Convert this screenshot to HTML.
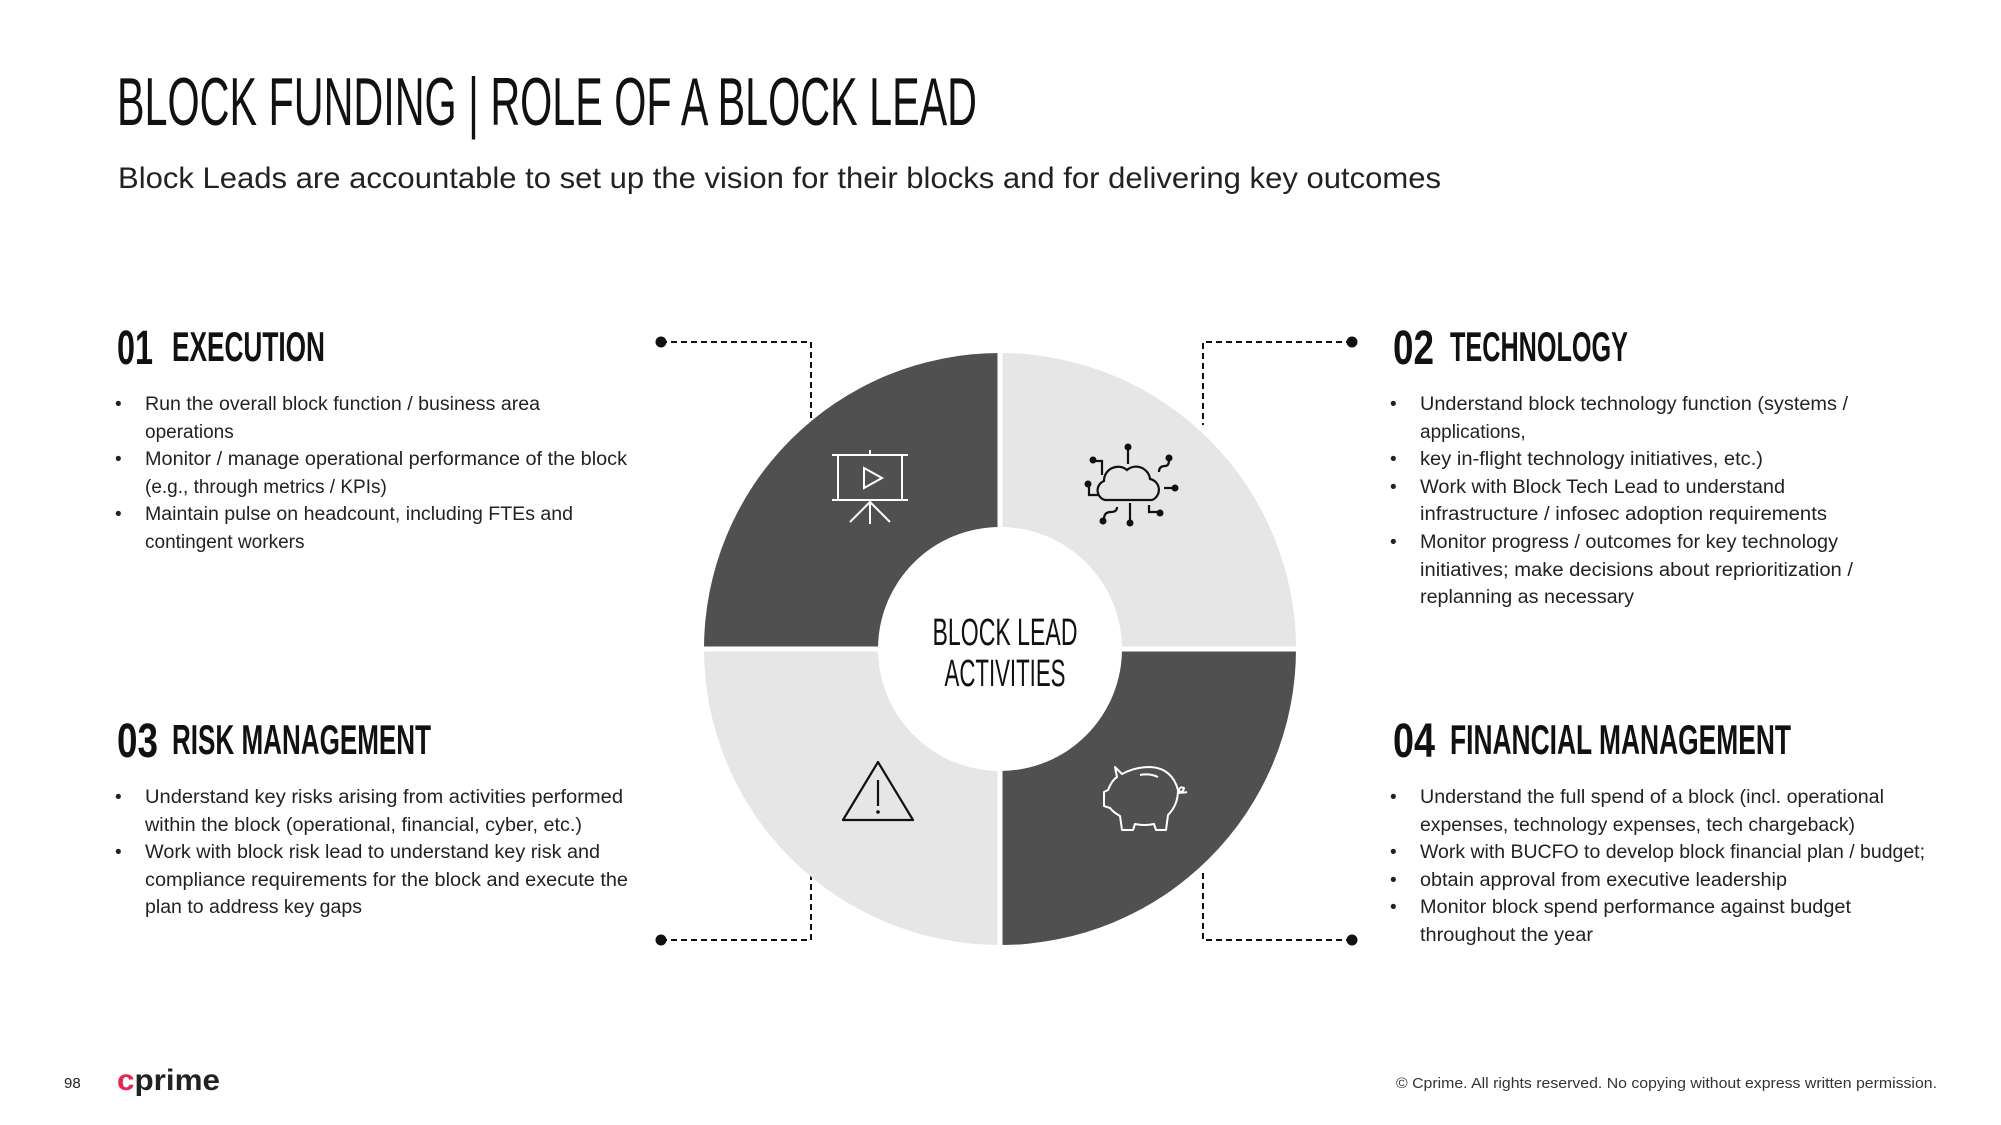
<!DOCTYPE html>
<html><head><meta charset="utf-8"><style>
html,body{margin:0;padding:0;background:#fff;}
svg{display:block;}
text{font-family:"Liberation Sans",sans-serif;fill:#111;}
.b{font-size:19px;fill:#222;}
</style></head><body>
<svg width="2001" height="1125" viewBox="0 0 2001 1125" xmlns="http://www.w3.org/2000/svg">
<rect width="2001" height="1125" fill="#fff"/>
<text x="117" y="125" font-size="68" textLength="860" lengthAdjust="spacingAndGlyphs" style="fill:#111">BLOCK FUNDING | ROLE OF A BLOCK LEAD</text>
<text x="118" y="188" font-size="30" textLength="1323" lengthAdjust="spacingAndGlyphs" style="fill:#222">Block Leads are accountable to set up the vision for their blocks and for delivering key outcomes</text>

<g font-weight="bold">
<text x="117" y="364" font-size="48" textLength="36" lengthAdjust="spacingAndGlyphs">01</text>
<text x="172" y="361" font-size="42" textLength="153" lengthAdjust="spacingAndGlyphs">EXECUTION</text>
<text x="1393" y="364" font-size="48" textLength="41" lengthAdjust="spacingAndGlyphs">02</text>
<text x="1450" y="361" font-size="42" textLength="178" lengthAdjust="spacingAndGlyphs">TECHNOLOGY</text>
<text x="117" y="757" font-size="48" textLength="41" lengthAdjust="spacingAndGlyphs">03</text>
<text x="172" y="754" font-size="42" textLength="259" lengthAdjust="spacingAndGlyphs">RISK MANAGEMENT</text>
<text x="1393" y="757" font-size="48" textLength="42" lengthAdjust="spacingAndGlyphs">04</text>
<text x="1450" y="754" font-size="42" textLength="341" lengthAdjust="spacingAndGlyphs">FINANCIAL MANAGEMENT</text>
</g>

<g class="b">
<text class="b" x="115" y="410">•</text><text class="b" x="145" y="410" textLength="395" lengthAdjust="spacingAndGlyphs">Run the overall block function / business area</text>
<text class="b" x="145" y="438">operations</text>
<text class="b" x="115" y="465">•</text><text class="b" x="145" y="465" textLength="482" lengthAdjust="spacingAndGlyphs">Monitor / manage operational performance of the block</text>
<text class="b" x="145" y="493">(e.g., through metrics / KPIs)</text>
<text class="b" x="115" y="520">•</text><text class="b" x="145" y="520" textLength="428" lengthAdjust="spacingAndGlyphs">Maintain pulse on headcount, including FTEs and</text>
<text class="b" x="145" y="548">contingent workers</text>

<text class="b" x="1390" y="410">•</text><text class="b" x="1420" y="410" textLength="428" lengthAdjust="spacingAndGlyphs">Understand block technology function (systems /</text>
<text class="b" x="1420" y="438">applications,</text>
<text class="b" x="1390" y="465">•</text><text class="b" x="1420" y="465" textLength="343" lengthAdjust="spacingAndGlyphs">key in-flight technology initiatives, etc.)</text>
<text class="b" x="1390" y="493">•</text><text class="b" x="1420" y="493" textLength="365" lengthAdjust="spacingAndGlyphs">Work with Block Tech Lead to understand</text>
<text class="b" x="1420" y="520" textLength="407" lengthAdjust="spacingAndGlyphs">infrastructure / infosec adoption requirements</text>
<text class="b" x="1390" y="548">•</text><text class="b" x="1420" y="548" textLength="418" lengthAdjust="spacingAndGlyphs">Monitor progress / outcomes for key technology</text>
<text class="b" x="1420" y="576" textLength="433" lengthAdjust="spacingAndGlyphs">initiatives; make decisions about reprioritization /</text>
<text class="b" x="1420" y="603" textLength="214" lengthAdjust="spacingAndGlyphs">replanning as necessary</text>

<text class="b" x="115" y="803">•</text><text class="b" x="145" y="803" textLength="478" lengthAdjust="spacingAndGlyphs">Understand key risks arising from activities performed</text>
<text class="b" x="145" y="831" textLength="437" lengthAdjust="spacingAndGlyphs">within the block (operational, financial, cyber, etc.)</text>
<text class="b" x="115" y="858">•</text><text class="b" x="145" y="858" textLength="455" lengthAdjust="spacingAndGlyphs">Work with block risk lead to understand key risk and</text>
<text class="b" x="145" y="886" textLength="483" lengthAdjust="spacingAndGlyphs">compliance requirements for the block and execute the</text>
<text class="b" x="145" y="913" textLength="217" lengthAdjust="spacingAndGlyphs">plan to address key gaps</text>

<text class="b" x="1390" y="803">•</text><text class="b" x="1420" y="803" textLength="464" lengthAdjust="spacingAndGlyphs">Understand the full spend of a block (incl. operational</text>
<text class="b" x="1420" y="831" textLength="435" lengthAdjust="spacingAndGlyphs">expenses, technology expenses, tech chargeback)</text>
<text class="b" x="1390" y="858">•</text><text class="b" x="1420" y="858" textLength="505" lengthAdjust="spacingAndGlyphs">Work with BUCFO to develop block financial plan / budget;</text>
<text class="b" x="1390" y="886">•</text><text class="b" x="1420" y="886" textLength="367" lengthAdjust="spacingAndGlyphs">obtain approval from executive leadership</text>
<text class="b" x="1390" y="913">•</text><text class="b" x="1420" y="913" textLength="431" lengthAdjust="spacingAndGlyphs">Monitor block spend performance against budget</text>
<text class="b" x="1420" y="941" textLength="173" lengthAdjust="spacingAndGlyphs">throughout the year</text>
</g>

<g stroke="#111" stroke-width="2" fill="none" stroke-dasharray="6,4">
<path d="M661 342 H811 V425"/>
<path d="M1352 342 H1203 V425"/>
<path d="M661 940 H811 V872"/>
<path d="M1352 940 H1203 V872"/>
</g>
<g fill="#111">
<circle cx="661" cy="342" r="5.5"/><circle cx="1352" cy="342" r="5.5"/>
<circle cx="661" cy="940" r="5.5"/><circle cx="1352" cy="940" r="5.5"/>
</g>

<g>
<path d="M1000 649 L1000 353 A296 296 0 0 0 704 649 Z" fill="#505050"/>
<path d="M1000 649 L1000 353 A296 296 0 0 1 1296 649 Z" fill="#e6e6e6"/>
<path d="M1000 649 L704 649 A296 296 0 0 0 1000 945 Z" fill="#e6e6e6"/>
<path d="M1000 649 L1296 649 A296 296 0 0 1 1000 945 Z" fill="#505050"/>
<rect x="997.5" y="345" width="5" height="610" fill="#fff"/>
<rect x="695" y="646.5" width="610" height="5" fill="#fff"/>
<circle cx="1000" cy="649" r="122" fill="#fff"/>
</g>
<text x="1005" y="645" font-size="38" text-anchor="middle" textLength="145" lengthAdjust="spacingAndGlyphs" style="fill:#111">BLOCK LEAD</text>
<text x="1005" y="686" font-size="38" text-anchor="middle" textLength="121" lengthAdjust="spacingAndGlyphs" style="fill:#111">ACTIVITIES</text>

<g stroke="#fff" stroke-width="2" fill="none">
<line x1="832" y1="455" x2="908" y2="455"/>
<line x1="832" y1="500" x2="908" y2="500"/>
<line x1="838" y1="455" x2="838" y2="500"/>
<line x1="902" y1="455" x2="902" y2="500"/>
<line x1="870" y1="450" x2="870" y2="455"/>
<path d="M864 468 L882 478 L864 488 Z"/>
<line x1="870" y1="500" x2="870" y2="524"/>
<line x1="870" y1="502" x2="850" y2="522"/>
<line x1="870" y1="502" x2="890" y2="522"/>
</g>

<g stroke="#111" stroke-width="2.2" fill="none">
<path d="M1105 500 H1152 A11 11 0 0 0 1150 479 A14 14 0 0 0 1127 470 A14 14 0 0 0 1104 481 A10 10 0 0 0 1105 500 Z"/>
<line x1="1128" y1="448" x2="1128" y2="464"/>
<line x1="1130" y1="503" x2="1130" y2="521"/>
<path d="M1094 461 h8 v14"/>
<path d="M1089 485 v10 h10"/>
<path d="M1159 472 q0 -6 6 -6 q4 0 4 -6"/>
<path d="M1164 488 h9"/>
<path d="M1149 505 v7 h9"/>
<path d="M1117 507 q0 5 -6 5 q-7 0 -7 7"/>
</g>
<g fill="#111">
<circle cx="1128" cy="447" r="3.5"/><circle cx="1130" cy="523" r="3.5"/>
<circle cx="1093" cy="460" r="3.5"/><circle cx="1088" cy="484" r="3.5"/>
<circle cx="1169" cy="458" r="3.5"/><circle cx="1175" cy="488" r="3.5"/>
<circle cx="1160" cy="513" r="3.5"/><circle cx="1103" cy="521" r="3.5"/>
</g>

<g stroke="#111" stroke-width="2.2" fill="none" stroke-linejoin="round">
<path d="M878 762 L913 820 H843 Z"/>
<line x1="878" y1="780" x2="878" y2="806"/>
</g>
<circle cx="878" cy="812" r="1.8" fill="#111"/>

<g stroke="#fff" stroke-width="2" fill="none" stroke-linejoin="round">
<path d="M1115 767 L1122 774 Q1135 767 1150 767 Q1172 768 1178 790 Q1178 805 1168 815 L1166 830 H1156 L1154 824 Q1145 826 1135 824 L1133 830 H1122 L1120 816 Q1113 812 1110 808 L1104 806 L1104 792 L1108 790 Q1112 780 1117 777 Z"/>
<path d="M1178 793 q5 0 6 -5 q-4 -2 -5 2 q1 4 8 2"/>
<path d="M1140 775 q10 -2 18 2"/>
</g>

<text x="64" y="1088" font-size="15" style="fill:#222">98</text>
<text x="117" y="1090" font-size="30" font-weight="bold" textLength="103" lengthAdjust="spacingAndGlyphs" style="fill:#222"><tspan style="fill:#e8254f">c</tspan>prime</text>
<text x="1937" y="1088" font-size="15" text-anchor="end" textLength="541" lengthAdjust="spacingAndGlyphs" style="fill:#333">© Cprime. All rights reserved. No copying without express written permission.</text>
</svg>
</body></html>
